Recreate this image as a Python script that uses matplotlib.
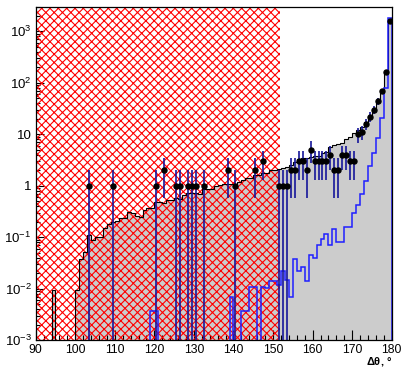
import numpy as np
import matplotlib
matplotlib.use("Agg")
import matplotlib.pyplot as plt
from matplotlib.ticker import FixedLocator, FixedFormatter, MultipleLocator, LogLocator, NullFormatter

plt.rcParams['font.family'] = ['Liberation Sans', 'DejaVu Sans']
plt.rcParams['mathtext.fontset'] = 'custom'
plt.rcParams['mathtext.rm'] = 'Liberation Sans'
plt.rcParams['mathtext.it'] = 'Liberation Sans:italic'
plt.rcParams['mathtext.bf'] = 'Liberation Sans:bold'
plt.rcParams['hatch.linewidth'] = 0.8

# ---- data (1-degree bins from 90 to 180) ----
bin_edges = list(range(90, 181))

mc_gray = [
    0, 0, 0, 0, 0.0095, 0, 0, 0, 0, 0,                       # 90-99
    0.0095, 0.038, 0.051, 0.11, 0.09, 0.10, 0.10, 0.15, 0.18, 0.20,  # 100-109
    0.21, 0.24, 0.24, 0.31, 0.29, 0.26, 0.25, 0.34, 0.37, 0.37,      # 110-119
    0.49, 0.48, 0.46, 0.53, 0.53, 0.57, 0.55, 0.65, 0.71, 0.71,      # 120-129
    0.72, 0.70, 0.85, 0.85, 0.85, 0.98, 1.05, 1.08, 1.08, 1.1,       # 130-139
    1.1, 1.2, 1.3, 1.4, 1.4, 1.6, 1.6, 1.75, 1.75, 2.0,              # 140-149
    2.0, 2.1, 2.2, 2.35, 2.5, 2.9, 3.3, 3.4, 3.4, 3.6,               # 150-159
    3.7, 3.8, 4.3, 4.6, 5.6, 6.2, 6.4, 6.7, 8.0, 9.0,                # 160-169
    10.5, 12, 14, 17, 23, 31, 45, 72, 165, 1650,                     # 170-179
]

mc_blue = [
    0, 0, 0, 0, 0, 0, 0, 0, 0, 0,                                    # 90-99
    0, 0, 0, 0, 0, 0, 0, 0, 0, 0,                                    # 100-109
    0, 0, 0, 0, 0, 0, 0, 0, 0, 0.0037,                               # 110-119
    0.0037, 0, 0, 0, 0, 0, 0, 0, 0, 0,                               # 120-129
    0, 0, 0, 0, 0, 0, 0, 0, 0, 0.007,                                # 130-139
    0, 0, 0.0037, 0.0037, 0.0107, 0.0107, 0, 0.0107, 0.0104, 0.014,  # 140-149
    0.014, 0.012, 0.022, 0.015, 0.007, 0.037, 0.022, 0.026, 0.014, 0.045,  # 150-159
    0.04, 0.072, 0.091, 0.118, 0.072, 0.146, 0.08, 0.08, 0.16, 0.16,       # 160-169
    0.3, 0.43, 0.68, 1.23, 2.4, 4.4, 8.6, 21, 80, 1800,                    # 170-179
]

data_bins = [103, 109, 120, 122, 125, 126, 128, 129, 130, 132, 138, 140, 145, 147,
             151, 152, 153, 154, 155, 156, 157, 158, 159, 160, 161, 162, 163, 164,
             165, 166, 167, 168, 169, 170, 171, 172, 173, 174, 175, 176, 177, 178, 179]
data_counts = [1, 1, 1, 2, 1, 1, 1, 1, 1, 1, 2, 1, 2, 3,
               1, 1, 1, 2, 2, 3, 3, 2, 5, 3, 3, 3, 3, 4,
               2, 2, 4, 4, 3, 3, 10, 11, 16, 22, 30, 44, 68, 160, 1580]

excluded_range = (90, 151.8)

x_ticks = [90, 100, 110, 120, 130, 140, 150, 160, 170, 180]
y_ticks = [1e-3, 1e-2, 1e-1, 1, 10, 100, 1000]
y_tick_labels = [r'$10^{-3}$', r'$10^{-2}$', r'$10^{-1}$', '1', '10', r'$10^{2}$', r'$10^{3}$']

# ---- plot ----
fig = plt.figure(figsize=(4.03, 3.68), dpi=100)
ax = fig.add_axes([0.0886, 0.0755, 0.972 - 0.0886, 0.9818 - 0.0755])

edges = np.array(bin_edges, dtype=float)
tiny = 1e-9
gray = np.array(mc_gray, dtype=float)
gray_pos = np.where(gray > 0, gray, tiny)
blue = np.array(mc_blue, dtype=float)
blue_pos = np.where(blue > 0, blue, tiny)

ax.stairs(gray_pos, edges, fill=True, color='#cccccc', baseline=tiny, zorder=1)
ax.axvspan(excluded_range[0], excluded_range[1], hatch='xxxx', fill=False,
           edgecolor='#ff0000', linewidth=0, zorder=2)
ax.stairs(gray_pos, edges, color='black', linewidth=0.8, baseline=tiny, zorder=3)
ax.stairs(blue_pos, edges, color='#1f1fff', linewidth=1.1, baseline=tiny, zorder=4)

xc = np.array(data_bins, dtype=float) + 0.5
yc = np.array(data_counts, dtype=float)
err = np.sqrt(yc)
lo = np.minimum(err, yc - tiny)
ax.errorbar(xc, yc, yerr=[lo, err], fmt='none', ecolor='#16169a', elinewidth=1.2,
            capsize=0, zorder=5)
ax.plot(xc, yc, 'o', color='black', ms=3.6, zorder=6)

ax.set_yscale('log')
ax.set_xlim(90, 180)
ax.set_ylim(1e-3, 3000)

ax.xaxis.set_major_locator(FixedLocator(x_ticks))
ax.xaxis.set_minor_locator(MultipleLocator(2))
ax.yaxis.set_major_locator(FixedLocator(y_ticks))
ax.yaxis.set_major_formatter(FixedFormatter(y_tick_labels))
ax.yaxis.set_minor_locator(LogLocator(base=10, subs=np.arange(2, 10), numticks=20))
ax.yaxis.set_minor_formatter(NullFormatter())

ax.tick_params(axis='both', which='both', direction='in', top=False, right=False,
               labelsize=9.5, colors='black')
ax.tick_params(axis='x', which='major', length=7, width=0.8, pad=2.6, labelsize=8.8)
ax.tick_params(axis='x', which='minor', length=3.5, width=0.8)
ax.tick_params(axis='y', which='major', length=6, width=0.8, pad=3)
ax.tick_params(axis='y', which='minor', length=3, width=0.8)
for s in ax.spines.values():
    s.set_linewidth(0.9)
    s.set_zorder(10)

fig.text(0.974, 0.0, r'$\mathbf{\Delta\theta}$, °', ha='right', va='bottom',
         fontsize=8, fontweight='bold')

fig.savefig('out.png', dpi=100)
